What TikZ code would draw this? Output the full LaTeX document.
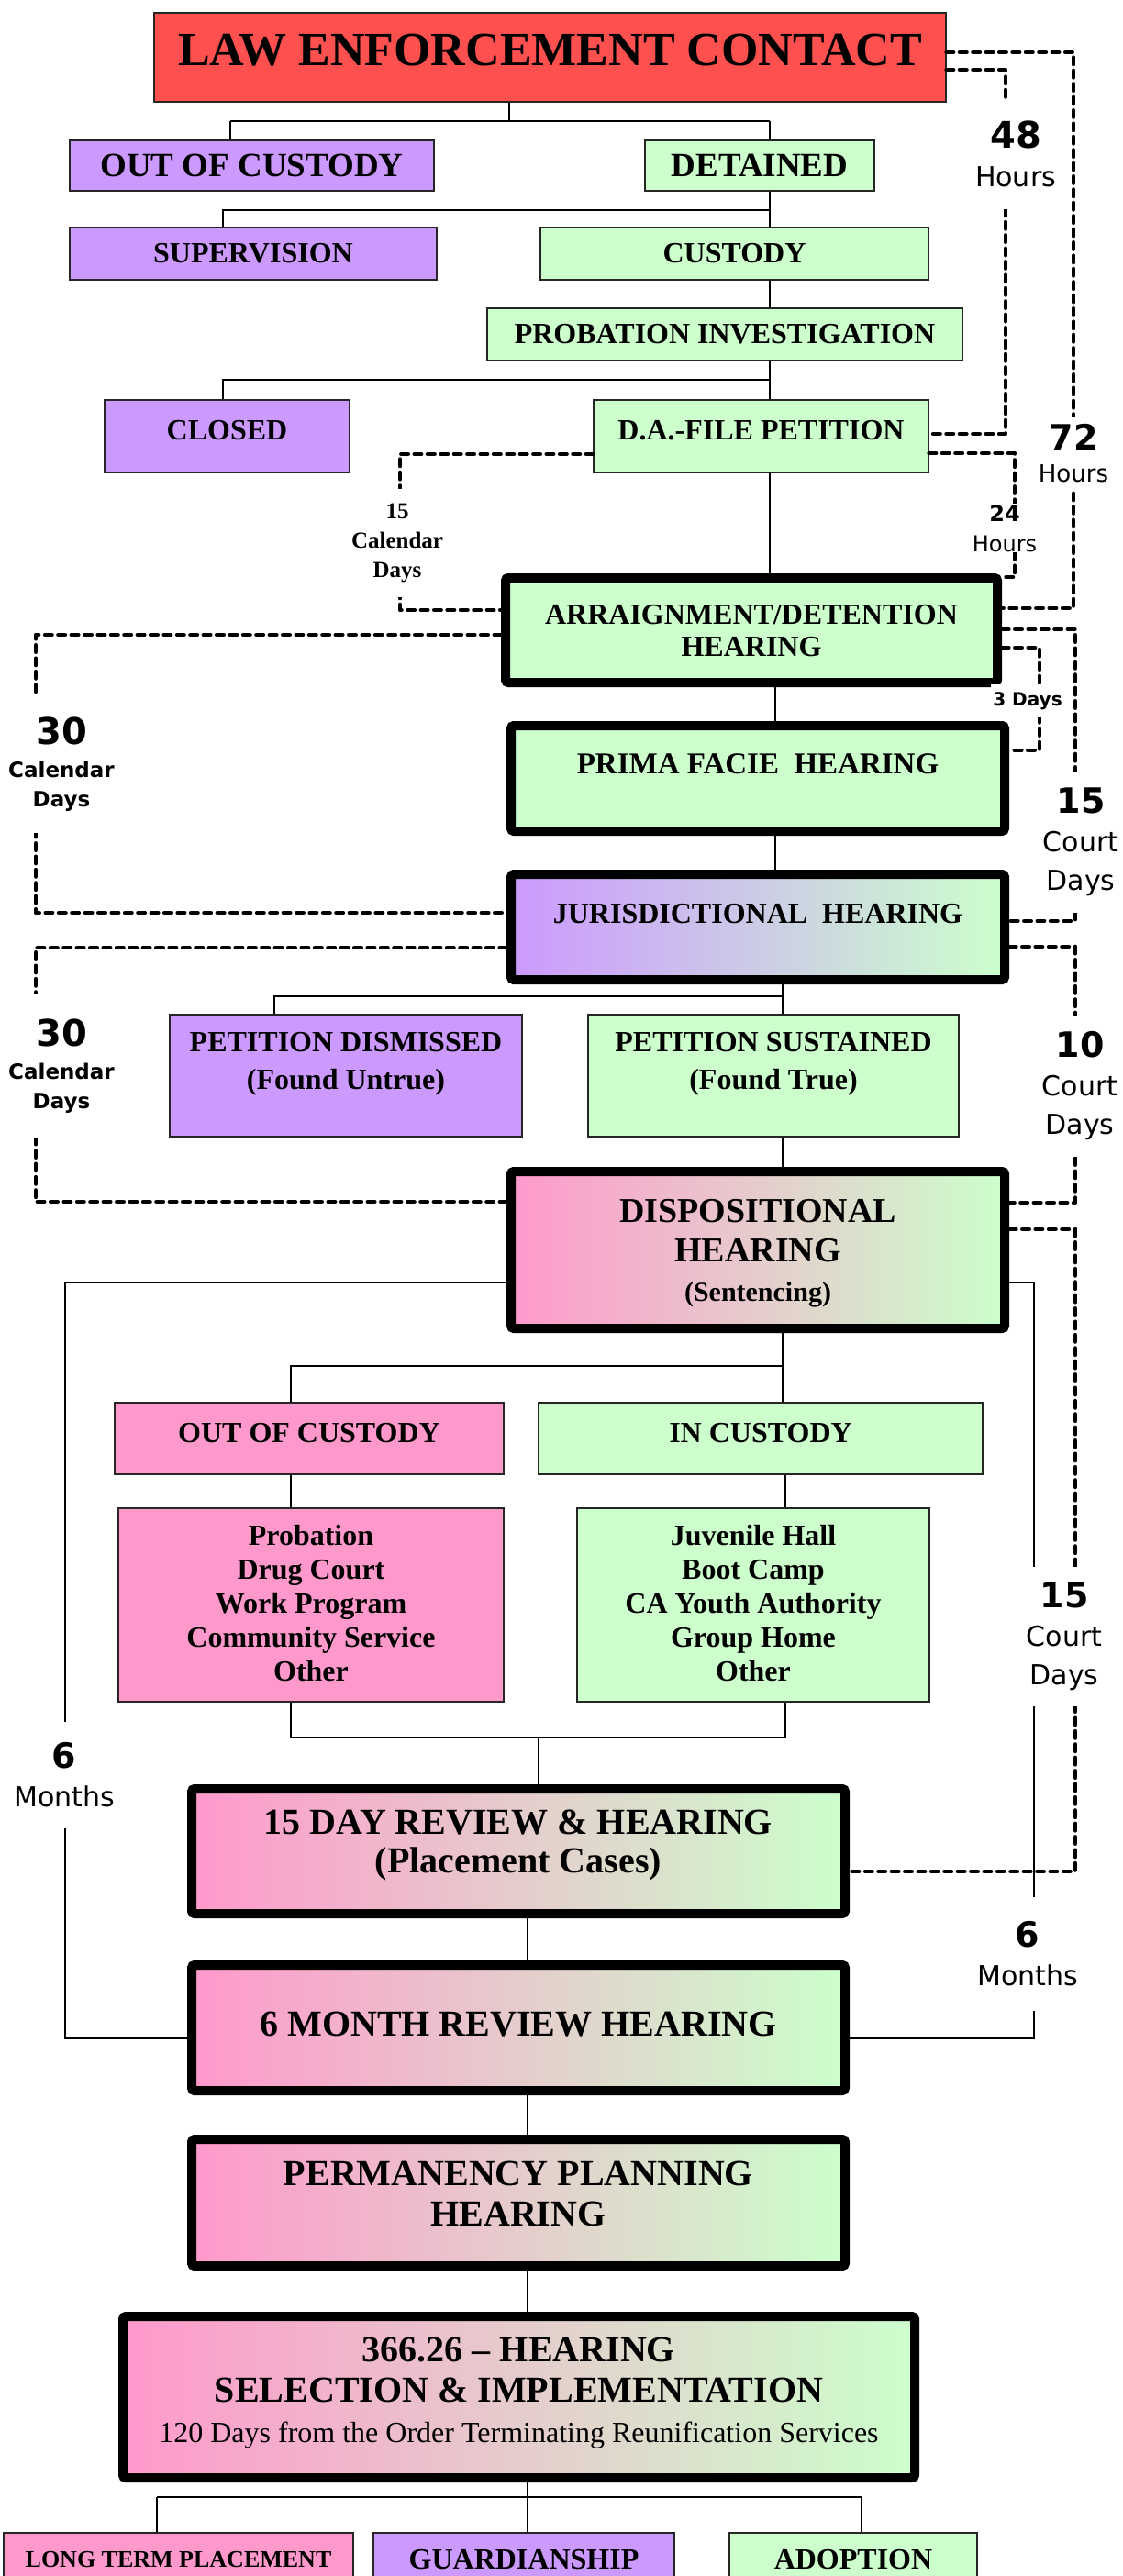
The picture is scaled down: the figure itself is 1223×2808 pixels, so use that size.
\documentclass[tikz,border=0pt]{standalone}
\usepackage{fontspec}
\setmainfont{Liberation Serif}
\newfontfamily\labfont{DejaVu Sans}
\definecolor{lawred}{RGB}{255,80,80}
\definecolor{lilac}{RGB}{204,153,255}
\definecolor{mint}{RGB}{204,255,204}
\definecolor{rose}{RGB}{255,153,204}

\begin{document}
\begin{tikzpicture}[x=0.5pt,y=-0.5pt,
  box/.style={draw=black!85,line width=0.75pt,inner sep=0pt,align=center,font=\bfseries\fontsize{16}{20.5}\selectfont},
  hear/.style={draw=black,line width=5pt,rounded corners=1.5pt,inner sep=0pt,align=center,font=\bfseries\fontsize{20}{22}\selectfont},
  grad/.style={left color=rose,right color=mint},
  link/.style={line width=0.7pt},
  dline/.style={line width=2.4pt,dash pattern=on 3.6pt off 3.6pt,line cap=round,line join=round},
  note/.style={fill=white,inner xsep=1pt,inner ysep=0pt,align=center,font=\labfont\fontsize{15}{21}\selectfont}]
\useasboundingbox (0,0) rectangle (1223,2808);
\clip (0,0) rectangle (1223,2808);

\node[box,fill=lawred,minimum width=431.5pt,minimum height=48.5pt,text depth=8.5pt,font=\bfseries\fontsize{26}{30}\selectfont] (lec) at (599.5,62.5) {LAW ENFORCEMENT CONTACT};
\node[box,fill=lilac,minimum width=198.5pt,minimum height=27.5pt,font=\bfseries\fontsize{18.5}{22}\selectfont] (ooc) at (274.5,180.5) {OUT OF CUSTODY};
\node[box,fill=mint,minimum width=125pt,minimum height=27.5pt,font=\bfseries\fontsize{18.5}{22}\selectfont] (det) at (828,180.5) {DETAINED};
\node[box,fill=lilac,minimum width=200pt,minimum height=28.5pt] (sup) at (276,276.5) {SUPERVISION};
\node[box,fill=mint,minimum width=211.5pt,minimum height=28.5pt] (cus) at (800.5,276.5) {CUSTODY};
\node[box,fill=mint,minimum width=259pt,minimum height=28.5pt] (prob) at (790,364.5) {PROBATION INVESTIGATION};
\node[box,fill=lilac,minimum width=133.5pt,minimum height=39.5pt,text depth=6.5pt] (closed) at (247.5,475.5) {CLOSED};
\node[box,fill=mint,minimum width=182.5pt,minimum height=39.5pt,text depth=6.5pt] (dafp) at (829.5,475.5) {D.A.-FILE PETITION};
\node[hear,fill=mint,minimum width=268pt,minimum height=57pt,text depth=0pt,font=\bfseries\fontsize{16}{20}\selectfont] (arr) at (819,687) {ARRAIGNMENT/DETENTION\\[-2.5pt]HEARING};
\node[hear,fill=mint,minimum width=269pt,minimum height=57.5pt,text depth=15.5pt,font=\bfseries\fontsize{16.5}{20}\selectfont] (pfh) at (826,848.5) {PRIMA FACIE\ \ HEARING};
\node[hear,left color=lilac,right color=mint,minimum width=269pt,minimum height=57.5pt,text depth=15pt,font=\bfseries\fontsize{16}{20}\selectfont] (jur) at (826,1010.5) {JURISDICTIONAL\ \ HEARING};
\node[box,fill=lilac,minimum width=192pt,minimum height=66.5pt,text depth=16.5pt] (pd) at (377,1172.5) {PETITION DISMISSED\\(Found Untrue)};
\node[box,fill=mint,minimum width=202pt,minimum height=66.5pt,text depth=16.5pt] (ps) at (843,1172.5) {PETITION SUSTAINED\\(Found True)};
\node[hear,grad,minimum width=269pt,minimum height=85.5pt,text depth=0pt,font=\bfseries\fontsize{19}{21.5}\selectfont] (disp) at (826,1362.5) {DISPOSITIONAL\\HEARING\\{\fontsize{15}{18}\selectfont (Sentencing)}};
\node[box,fill=rose,minimum width=212pt,minimum height=39pt,text depth=6.5pt] (oc2) at (337,1568) {OUT OF CUSTODY};
\node[box,fill=mint,minimum width=242pt,minimum height=39pt,text depth=6.5pt] (ic) at (829,1568) {IN CUSTODY};
\node[box,fill=rose,minimum width=210pt,minimum height=105.5pt,text depth=2pt,font=\bfseries\fontsize{16}{18.5}\selectfont] (plist) at (339,1749.5) {Probation\\Drug Court\\Work Program\\Community Service\\Other};
\node[box,fill=mint,minimum width=192pt,minimum height=105.5pt,text depth=2pt,font=\bfseries\fontsize{16}{18.5}\selectfont] (jlist) at (821,1749.5) {Juvenile Hall\\Boot Camp\\CA Youth Authority\\Group Home\\Other};
\node[hear,grad,minimum width=356pt,minimum height=68pt,text depth=10.5pt,font=\bfseries\fontsize{20}{21}\selectfont] (rev15) at (565,2018) {15 DAY REVIEW \& HEARING\\(Placement Cases)};
\node[hear,grad,minimum width=356pt,minimum height=68.5pt,text depth=4pt] (rev6) at (565,2210.5) {6 MONTH REVIEW HEARING};
\node[hear,grad,minimum width=356pt,minimum height=69pt,text depth=9.5pt] (pph) at (565,2401) {PERMANENCY PLANNING\\HEARING};
\node[hear,grad,minimum width=431.5pt,minimum height=88pt,text depth=7.5pt] (sel) at (565.5,2613) {366.26 -- HEARING\\SELECTION \& IMPLEMENTATION\\{\mdseries\fontsize{16}{18}\selectfont 120 Days from the Order Terminating Reunification Services}};
\node[box,fill=rose,minimum width=190.5pt,minimum height=29pt,font=\bfseries\fontsize{13}{16}\selectfont] (ltp) at (194.5,2790) {LONG TERM PLACEMENT};
\node[box,fill=lilac,minimum width=164pt,minimum height=29pt] (gua) at (571,2790) {GUARDIANSHIP};
\node[box,fill=mint,minimum width=135pt,minimum height=29pt] (ado) at (930,2790) {ADOPTION};

\coordinate (k1) at (555,132);
\coordinate (k1a) at (251,132);
\coordinate (k1b) at (839,132);
\coordinate (k2) at (839,229);
\coordinate (k2a) at (243,229);
\coordinate (k3) at (839,414);
\coordinate (k3a) at (243,414);
\coordinate (k4) at (845,768);
\coordinate (k5) at (853,1086);
\coordinate (k5a) at (299,1086);
\coordinate (k6) at (853,1489);
\coordinate (k6a) at (317,1489);
\coordinate (k7) at (856,1894);
\coordinate (k7a) at (317,1894);
\coordinate (k7m) at (587,1894);
\coordinate (k8) at (575,2722);
\coordinate (k8a) at (171,2722);
\coordinate (k8b) at (939,2722);
\coordinate (m1) at (71,1398);
\coordinate (m1b) at (71,2222);
\coordinate (m2) at (1127,1398);
\coordinate (m2b) at (1127,2222);

\draw[link] (k1 |- lec.south) -- (k1) (k1a) -- (k1b) (k1a) -- (k1a |- ooc.north) (k1b) -- (k1b |- det.north);
\draw[link] (k2 |- det.south) -- (k2) -- (k2a) -- (k2a |- sup.north) (k2) -- (k2 |- cus.north) (k2 |- cus.south) -- (k2 |- prob.north);
\draw[link] (k3 |- prob.south) -- (k3) -- (k3a) -- (k3a |- closed.north) (k3) -- (k3 |- dafp.north) (k3 |- dafp.south) -- (k3 |- arr.north);
\draw[link] (k4 |- arr.south) -- (k4 |- pfh.north) (k4 |- pfh.south) -- (k4 |- jur.north);
\draw[link] (k5 |- jur.south) -- (k5) -- (k5a) -- (k5a |- pd.north) (k5) -- (k5 |- ps.north) (k5 |- ps.south) -- (k5 |- disp.north);
\draw[link] (k6 |- disp.south) -- (k6) -- (k6a) -- (k6a |- oc2.north) (k6) -- (k6 |- ic.north) (k6a |- oc2.south) -- (k6a |- plist.north) (k7 |- ic.south) -- (k7 |- jlist.north);
\draw[link] (k7a |- plist.south) -- (k7a) -- (k7) -- (k7 |- jlist.south) (k7m) -- (k7m |- rev15.north);
\draw[link] (k8 |- rev15.south) -- (k8 |- rev6.north) (k8 |- rev6.south) -- (k8 |- pph.north) (k8 |- pph.south) -- (k8 |- sel.north) (k8 |- sel.south) -- (k8) (k8a) -- (k8b) (k8a) -- (k8a |- ltp.north) (k8) -- (k8 |- gua.north) (k8b) -- (k8b |- ado.north);
\draw[link] (disp.west |- m1) -- (m1) -- (m1b) -- (m1b -| rev6.west);
\draw[link] (disp.east |- m2) -- (m2) -- (m2b) -- (m2b -| rev6.east);

\coordinate (c1a) at (1172,57);
\coordinate (c1b) at (1170,663);
\coordinate (c2a) at (1096,76);
\coordinate (c2b) at (1096,473);
\coordinate (c3a) at (1104,494);
\coordinate (c3b) at (1106,629);
\coordinate (c4a) at (436,495);
\coordinate (c4b) at (436,665);
\coordinate (c5a) at (39,692);
\coordinate (c5b) at (39,995);
\coordinate (c6a) at (39,1033);
\coordinate (c6b) at (39,1310);
\coordinate (c7a) at (1172,686);
\coordinate (c7b) at (1172,1004);
\coordinate (c8a) at (1133,706);
\coordinate (c8b) at (1133,818);
\coordinate (c9a) at (1172,1032);
\coordinate (c9b) at (1172,1311);
\coordinate (c10a) at (1172,1340);
\coordinate (c10b) at (1172,2040);

\draw[dline] (lec.east |- c1a) -| (c1b) -- (c1b -| arr.east);
\draw[dline] (lec.east |- c2a) -| (c2b) -- (c2b -| dafp.east);
\draw[dline] (dafp.east |- c3a) -| (c3b) -- (c3b -| arr.east);
\draw[dline] (dafp.west |- c4a) -| (c4b) -- (c4b -| arr.west);
\draw[dline] (arr.west |- c5a) -| (c5b) -- (c5b -| jur.west);
\draw[dline] (jur.west |- c6a) -| (c6b) -- (c6b -| disp.west);
\draw[dline] (arr.east |- c7a) -| (c7b) -- (c7b -| jur.east);
\draw[dline] (arr.east |- c8a) -| (c8b) -- (c8b -| pfh.east);
\draw[dline] (jur.east |- c9a) -| (c9b) -- (c9b -| disp.east);
\draw[dline] (disp.east |- c10a) -| (c10b) -- (c10b -| rev15.east);

\node[note,minimum height=60pt] (t48) at (1107,168) {{\bfseries\fontsize{20}{20}\selectfont 48}\\Hours};
\node[note,minimum height=39pt,font=\labfont\fontsize{13}{17.5}\selectfont] (t72) at (1170,494) {{\bfseries\fontsize{19}{19}\selectfont 72}\\Hours};
\node[note,minimum height=26.5pt,font=\labfont\fontsize{12}{16.5}\selectfont] (t24) at (1095,576) {{\bfseries 24}\\Hours};
\node[note,minimum height=59pt,font=\bfseries\fontsize{12.5}{16}\selectfont] (t15c) at (433,592) {15\\Calendar\\Days};
\node[note,minimum height=18pt,font=\labfont\bfseries\fontsize{10}{12}\selectfont] (t3d) at (1120,764) {3 Days};
\node[note,minimum height=75pt,font=\labfont\bfseries\fontsize{11.5}{16}\selectfont] (t30a) at (67,833) {{\fontsize{20}{20}\selectfont 30}\\[2pt]Calendar\\Days};
\node[note,minimum height=79pt,font=\labfont\bfseries\fontsize{11.5}{16}\selectfont] (t30b) at (67,1162) {{\fontsize{20}{20}\selectfont 30}\\[2pt]Calendar\\Days};
\node[note,minimum height=77pt] (t15a) at (1178,918) {{\bfseries\fontsize{19}{19}\selectfont 15}\\Court\\Days};
\node[note,minimum height=77pt] (t10) at (1177,1184) {{\bfseries\fontsize{19}{19}\selectfont 10}\\Court\\Days};
\node[note,minimum height=76pt] (t15b) at (1160,1784) {{\bfseries\fontsize{19}{19}\selectfont 15}\\Court\\Days};
\node[note,minimum height=58pt] (t6a) at (70,1935) {{\bfseries\fontsize{19}{19}\selectfont 6}\\Months};
\node[note,minimum height=62pt] (t6b) at (1120,2130) {{\bfseries\fontsize{19}{19}\selectfont 6}\\Months};
\end{tikzpicture}
\end{document}
